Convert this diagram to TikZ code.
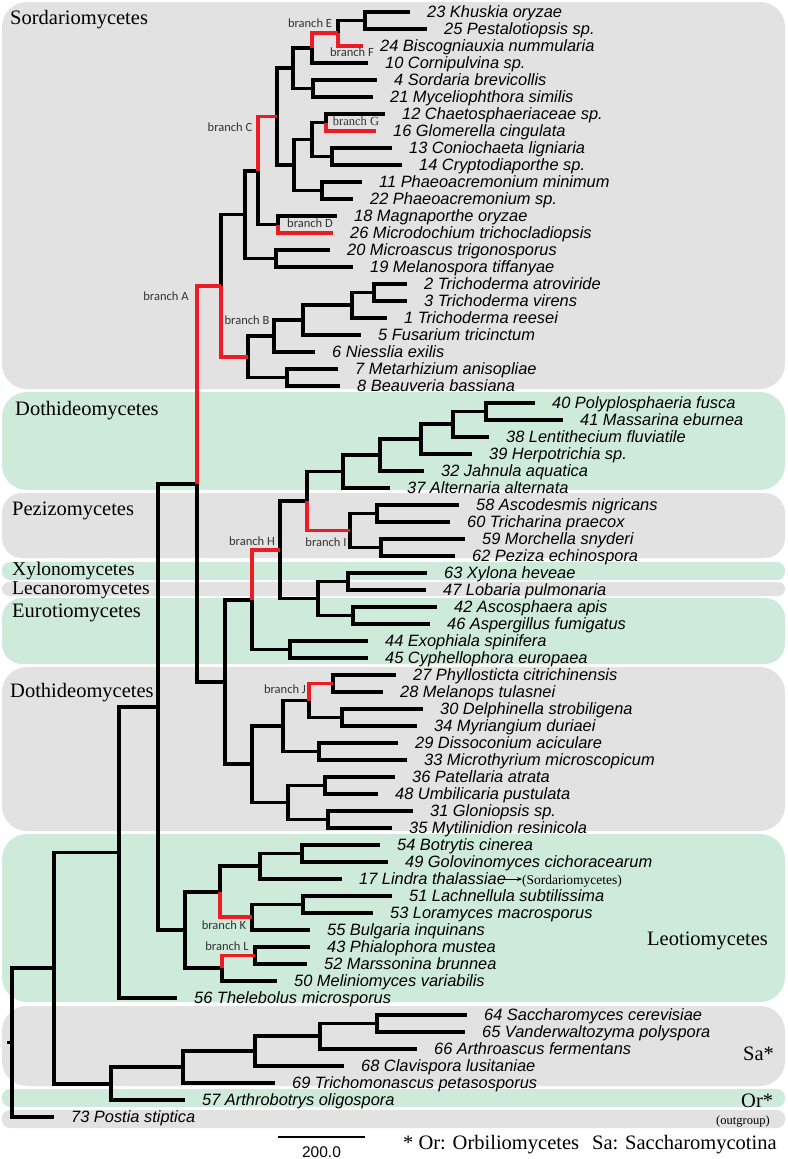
\documentclass[tikz,border=0pt]{standalone}
\usepackage{fontspec}
\setmainfont{Liberation Serif}
\newfontfamily\arialf{Liberation Sans}
\newfontfamily\calf{Carlito}
\usetikzlibrary{arrows.meta}
\definecolor{bandgray}{RGB}{226,226,226}
\definecolor{bandgreen}{RGB}{206,234,218}
\definecolor{brred}{RGB}{237,28,36}
\newcommand\leaf[4]{\coordinate (t#1) at (#2,#3); \node[leaflab] (l#1) at (t#1) {#4};}
\newcommand\tedge[2]{\draw[br] (#1) |- (#2);}
\newcommand\redge[2]{\draw[redbr] (#1) |- (#2);}
\begin{document}
\begin{tikzpicture}[x=1pt,y=-1pt,
 br/.style={line width=3.8pt,black},
 redbr/.style={line width=3.6pt,brred},
 leaflab/.style={anchor=base west,inner sep=0pt,xshift=17pt,yshift=-5.9pt,font=\arialf\itshape\fontsize{16.4}{18}\selectfont},
 grp/.style={anchor=base west,inner sep=0pt,font=\fontsize{20.5}{22}\selectfont},
 grpt/.style={anchor=base west,inner sep=0pt,font=\fontsize{19.5}{21}\selectfont},
 blab/.style={inner sep=0pt,font=\calf\fontsize{12.5}{14}\selectfont,text=black!80},
 gband/.style={fill=bandgray},
 eband/.style={fill=bandgreen}]
\useasboundingbox (0,0) rectangle (787,1159);
% bands
\fill[gband,rounded corners=25pt] (2,2) rectangle (785,389);
\fill[eband,rounded corners=25pt] (2,392) rectangle (785,490);
\fill[gband,rounded corners=20pt] (2,493) rectangle (785,558);
\fill[eband,rounded corners=8pt] (2,562) rectangle (785,580);
\fill[gband,rounded corners=7pt] (2,582) rectangle (785,596);
\fill[eband,rounded corners=20pt] (2,598) rectangle (785,664);
\fill[gband,rounded corners=25pt] (2,667) rectangle (785,831);
\fill[eband,rounded corners=25pt] (2,834) rectangle (785,1002);
\fill[gband,rounded corners=25pt] (2,1006) rectangle (785,1086);
\fill[eband,rounded corners=8pt] (2,1089) rectangle (785,1107);
\fill[gband,rounded corners=8pt] (2,1110) rectangle (785,1128);
% group labels
\node[grp] (gSor) at (10,24) {Sordariomycetes};
\node[grp] (gDo1) at (15,415) {Dothideomycetes};
\node[grp] (gPez) at (12,515) {Pezizomycetes};
\node[grpt] (gXyl) at (12,575.5) {Xylonomycetes};
\node[grpt] (gLec) at (12,594.5) {Lecanoromycetes};
\node[grp] (gEur) at (12,617) {Eurotiomycetes};
\node[grp] (gDo2) at (10,697) {Dothideomycetes};
\node[grp] (gLeo) at (647,945) {Leotiomycetes};
\node[grp] (gSa) at (743,1060) {Sa*};
\node[grp] (gOr) at (741,1107) {Or*};
\node[anchor=base west,inner sep=0pt,font=\fontsize{12.5}{14}\selectfont] (gOut) at (716,1124) {(outgroup)};
\node[grp] (fn1) at (403,1149) {* Or: Orbiliomycetes};
\node[grp] (fn2) at (592,1149) {Sa: Saccharomycotina};
% leaves
\leaf{23}{410}{12}{23 Khuskia oryzae}
\leaf{25}{427}{29}{25 Pestalotiopsis sp.}
\leaf{24}{363}{46}{24 Biscogniauxia nummularia}
\leaf{10}{368}{63}{10 Cornipulvina sp.}
\leaf{4}{377}{80}{4 Sordaria brevicollis}
\leaf{21}{373}{97}{21 Myceliophthora similis}
\leaf{12}{385}{114}{12 Chaetosphaeriaceae sp.}
\leaf{16}{376}{131}{16 Glomerella cingulata}
\leaf{13}{392}{148}{13 Coniochaeta ligniaria}
\leaf{14}{402}{165}{14 Cryptodiaporthe sp.}
\leaf{11}{362}{182}{11 Phaeoacremonium minimum}
\leaf{22}{353}{199}{22 Phaeoacremonium sp.}
\leaf{18}{337}{216}{18 Magnaporthe oryzae}
\leaf{26}{333}{233}{26 Microdochium trichocladiopsis}
\leaf{20}{330}{250}{20 Microascus trigonosporus}
\leaf{19}{353}{267}{19 Melanospora tiffanyae}
\leaf{2}{407}{284}{2 Trichoderma atroviride}
\leaf{3}{407}{301}{3 Trichoderma virens}
\leaf{1}{387}{318}{1 Trichoderma reesei}
\leaf{5}{361}{335}{5 Fusarium tricinctum}
\leaf{6}{315}{352}{6 Niesslia exilis}
\leaf{7}{338}{369}{7 Metarhizium anisopliae}
\leaf{8}{340}{386}{8 Beauveria bassiana}
\leaf{40}{535}{403}{40 Polyplosphaeria fusca}
\leaf{41}{563}{420}{41 Massarina eburnea}
\leaf{38}{489}{437}{38 Lentithecium fluviatile}
\leaf{39}{472}{454}{39 Herpotrichia sp.}
\leaf{32}{424}{471}{32 Jahnula aquatica}
\leaf{37}{390}{488}{37 Alternaria alternata}
\leaf{58}{459}{505}{58 Ascodesmis nigricans}
\leaf{60}{450}{522}{60 Tricharina praecox}
\leaf{59}{465}{539}{59 Morchella snyderi}
\leaf{62}{455}{556}{62 Peziza echinospora}
\leaf{63}{427}{573}{63 Xylona heveae}
\leaf{47}{426}{590}{47 Lobaria pulmonaria}
\leaf{42}{437}{607}{42 Ascosphaera apis}
\leaf{46}{430}{624}{46 Aspergillus fumigatus}
\leaf{44}{368}{641}{44 Exophiala spinifera}
\leaf{45}{368}{658}{45 Cyphellophora europaea}
\leaf{27}{396}{675}{27 Phyllosticta citrichinensis}
\leaf{28}{383}{692}{28 Melanops tulasnei}
\leaf{30}{423}{709}{30 Delphinella strobiligena}
\leaf{34}{417}{726}{34 Myriangium duriaei}
\leaf{29}{398}{743}{29 Dissoconium aciculare}
\leaf{33}{407}{760}{33 Microthyrium microscopicum}
\leaf{36}{395}{777}{36 Patellaria atrata}
\leaf{48}{378}{794}{48 Umbilicaria pustulata}
\leaf{31}{413}{811}{31 Gloniopsis sp.}
\leaf{35}{392}{828}{35 Mytilinidion resinicola}
\leaf{54}{380}{845}{54 Botrytis cinerea}
\leaf{49}{388}{862}{49 Golovinomyces cichoracearum}
\leaf{17}{342}{879}{17 Lindra thalassiae}
\leaf{51}{392}{896}{51 Lachnellula subtilissima}
\leaf{53}{373}{913}{53 Loramyces macrosporus}
\leaf{55}{310}{930}{55 Bulgaria inquinans}
\leaf{43}{310}{947}{43 Phialophora mustea}
\leaf{52}{307}{964}{52 Marssonina brunnea}
\leaf{50}{277}{981}{50 Meliniomyces variabilis}
\leaf{56}{177}{998}{56 Thelebolus microsporus}
\leaf{64}{467}{1015}{64 Saccharomyces cerevisiae}
\leaf{65}{465}{1032}{65 Vanderwaltozyma polyspora}
\leaf{66}{417}{1049}{66 Arthroascus fermentans}
\leaf{68}{344}{1066}{68 Clavispora lusitaniae}
\leaf{69}{275}{1083}{69 Trichomonascus petasosporus}
\leaf{57}{185}{1100}{57 Arthrobotrys oligospora}
\leaf{73}{54}{1117}{73 Postia stiptica}
% internal nodes
\coordinate (n2325) at (365,20.5);
\coordinate (nE1) at (338,33.25);
\coordinate (nE) at (312,48.1);
\coordinate (n421) at (313,88.5);
\coordinate (nA1) at (293,68.3);
\coordinate (n1216) at (326,122.5);
\coordinate (n1314) at (332,156.5);
\coordinate (nG2) at (312,139.5);
\coordinate (n1122) at (322,190.5);
\coordinate (nG3) at (294,165);
\coordinate (nC1) at (277,116.6);
\coordinate (n1826) at (278,224.5);
\coordinate (nC) at (258,170.6);
\coordinate (n2019) at (276,258.5);
\coordinate (nB0) at (245,214.5);
\coordinate (n23) at (374,292.5);
\coordinate (n231) at (352,305.25);
\coordinate (n2315) at (303,320.1);
\coordinate (nH6) at (274,336.06);
\coordinate (n78) at (287,377.5);
\coordinate (nB) at (248,356.8);
\coordinate (nS) at (221,285.7);
\coordinate (n4041) at (486,411.5);
\coordinate (nD38) at (453,424.25);
\coordinate (nD39) at (421,439.1);
\coordinate (nD32) at (380,455.1);
\coordinate (nD37) at (343,471.5);
\coordinate (n5860) at (377,513.5);
\coordinate (n5962) at (381,547.5);
\coordinate (nI) at (350,530.5);
\coordinate (nP) at (307,501);
\coordinate (n6347) at (348,581.5);
\coordinate (n4246) at (353,615.5);
\coordinate (nXL) at (318,598.5);
\coordinate (nX) at (280,549.75);
\coordinate (n4445) at (290,649.5);
\coordinate (nEu) at (252,599.6);
\coordinate (n2728) at (333,683.5);
\coordinate (n3034) at (342,717.5);
\coordinate (nJ) at (309,700.5);
\coordinate (n2933) at (319,751.5);
\coordinate (nJ2) at (283,726);
\coordinate (n3648) at (325,785.5);
\coordinate (n3135) at (328,819.5);
\coordinate (nM) at (288,802.5);
\coordinate (nL) at (252,764.25);
\coordinate (nDE) at (225,681.9);
\coordinate (nA) at (197,483.8);
\coordinate (n5449) at (302,853.5);
\coordinate (nK1) at (260,866.25);
\coordinate (n5153) at (303,904.5);
\coordinate (nK) at (252,917.25);
\coordinate (nK0) at (220,891.75);
\coordinate (n4352) at (255,955.5);
\coordinate (nL0) at (222,968.25);
\coordinate (nLe) at (185,930);
\coordinate (n158) at (158,706.9);
\coordinate (n119) at (119,852.5);
\coordinate (n6465) at (377,1023.5);
\coordinate (nS1) at (320,1036.25);
\coordinate (nS2) at (255,1051.1);
\coordinate (nS3) at (183,1067.1);
\coordinate (nSO) at (111,1083.6);
\coordinate (n54) at (54,968);
\coordinate (root) at (12,1042.5);
\coordinate (rstub) at (7,1042.5);
% black edges
\tedge{n2325}{t23}\tedge{n2325}{t25}
\tedge{nE1}{n2325}
\tedge{nE}{t10}
\tedge{n421}{t4}\tedge{n421}{t21}
\tedge{nA1}{nE}\tedge{nA1}{n421}
\tedge{n1216}{t12}
\tedge{n1314}{t13}\tedge{n1314}{t14}
\tedge{nG2}{n1216}\tedge{nG2}{n1314}
\tedge{n1122}{t11}\tedge{n1122}{t22}
\tedge{nG3}{nG2}\tedge{nG3}{n1122}
\tedge{nC1}{nA1}\tedge{nC1}{nG3}
\tedge{n1826}{t18}
\tedge{nC}{n1826}
\tedge{n2019}{t20}\tedge{n2019}{t19}
\tedge{nB0}{nC}\tedge{nB0}{n2019}
\tedge{n23}{t2}\tedge{n23}{t3}
\tedge{n231}{n23}\tedge{n231}{t1}
\tedge{n2315}{n231}\tedge{n2315}{t5}
\tedge{nH6}{n2315}\tedge{nH6}{t6}
\tedge{n78}{t7}\tedge{n78}{t8}
\tedge{nB}{nH6}\tedge{nB}{n78}
\tedge{nS}{nB0}
\tedge{n4041}{t40}\tedge{n4041}{t41}
\tedge{nD38}{n4041}\tedge{nD38}{t38}
\tedge{nD39}{nD38}\tedge{nD39}{t39}
\tedge{nD32}{nD39}\tedge{nD32}{t32}
\tedge{nD37}{nD32}\tedge{nD37}{t37}
\tedge{n5860}{t58}\tedge{n5860}{t60}
\tedge{n5962}{t59}\tedge{n5962}{t62}
\tedge{nI}{n5860}\tedge{nI}{n5962}
\tedge{nP}{nD37}
\tedge{n6347}{t63}\tedge{n6347}{t47}
\tedge{n4246}{t42}\tedge{n4246}{t46}
\tedge{nXL}{n6347}\tedge{nXL}{n4246}
\tedge{nX}{nP}\tedge{nX}{nXL}
\tedge{n4445}{t44}\tedge{n4445}{t45}
\tedge{nEu}{n4445}
\tedge{n2728}{t27}\tedge{n2728}{t28}
\tedge{n3034}{t30}\tedge{n3034}{t34}
\tedge{nJ}{n3034}
\tedge{n2933}{t29}\tedge{n2933}{t33}
\tedge{nJ2}{nJ}\tedge{nJ2}{n2933}
\tedge{n3648}{t36}\tedge{n3648}{t48}
\tedge{n3135}{t31}\tedge{n3135}{t35}
\tedge{nM}{n3648}\tedge{nM}{n3135}
\tedge{nL}{nJ2}\tedge{nL}{nM}
\tedge{nDE}{nEu}\tedge{nDE}{nL}
\tedge{nA}{nDE}
\tedge{n5449}{t54}\tedge{n5449}{t49}
\tedge{nK1}{n5449}\tedge{nK1}{t17}
\tedge{n5153}{t51}\tedge{n5153}{t53}
\tedge{nK}{n5153}\tedge{nK}{t55}
\tedge{nK0}{nK1}
\tedge{n4352}{t43}\tedge{n4352}{t52}
\tedge{nL0}{t50}
\tedge{nLe}{nK0}\tedge{nLe}{nL0}
\tedge{n158}{nA}\tedge{n158}{nLe}
\tedge{n119}{n158}\tedge{n119}{t56}
\tedge{n6465}{t64}\tedge{n6465}{t65}
\tedge{nS1}{n6465}\tedge{nS1}{t66}
\tedge{nS2}{nS1}\tedge{nS2}{t68}
\tedge{nS3}{nS2}\tedge{nS3}{t69}
\tedge{nSO}{nS3}\tedge{nSO}{t57}
\tedge{n54}{n119}\tedge{n54}{nSO}
\tedge{root}{n54}\tedge{root}{t73}
\draw[br] (rstub) -- (root);
% red edges
\redge{nE1}{t24}
\redge{nE}{nE1}
\redge{n1216}{t16}
\redge{n1826}{t26}
\redge{nC}{nC1}
\redge{nS}{nB}
\redge{nA}{nS}
\redge{nP}{nI}
\redge{nEu}{nX}
\redge{nJ}{n2728}
\redge{nK0}{nK}
\redge{nL0}{n4352}
% branch labels
\node[blab] (bA) at (166,296) {branch A};
\node[blab] (bB) at (247,320) {branch B};
\node[blab] (bC) at (230,127) {branch C};
\node[blab] (bD) at (310,223) {branch D};
\node[blab] (bE) at (310,23) {branch E};
\node[blab] (bF) at (352,52) {branch F};
\node[inner sep=0pt,font=\fontsize{12.5}{14}\selectfont,text=black!80] (bG) at (356,121) {branch G};
\node[blab] (bH) at (252,541) {branch H};
\node[blab] (bI) at (326,542) {branch I};
\node[blab] (bJ) at (285,689) {branch J};
\node[blab] (bK) at (224,925) {branch K};
\node[blab] (bL) at (227,946) {branch L};
% note for Lindra
\node[anchor=west,inner sep=0pt,font=\fontsize{13.5}{15}\selectfont] (snote) at (522,881) {(Sordariomycetes)};
\draw[line width=1.1pt,-{Stealth[length=5pt,width=4pt]}] ([xshift=-1pt]l17.east) -- (l17.east -| snote.west);
% scale bar
\coordinate (sb1) at (278,1137);
\coordinate (sb2) at (365,1137);
\draw[line width=2pt] (sb1) -- (sb2);
\node[anchor=base,inner sep=0pt,font=\arialf\fontsize{15.5}{17}\selectfont] (sbl) at (321.5,1157) {200.0};
\end{tikzpicture}
\end{document}
